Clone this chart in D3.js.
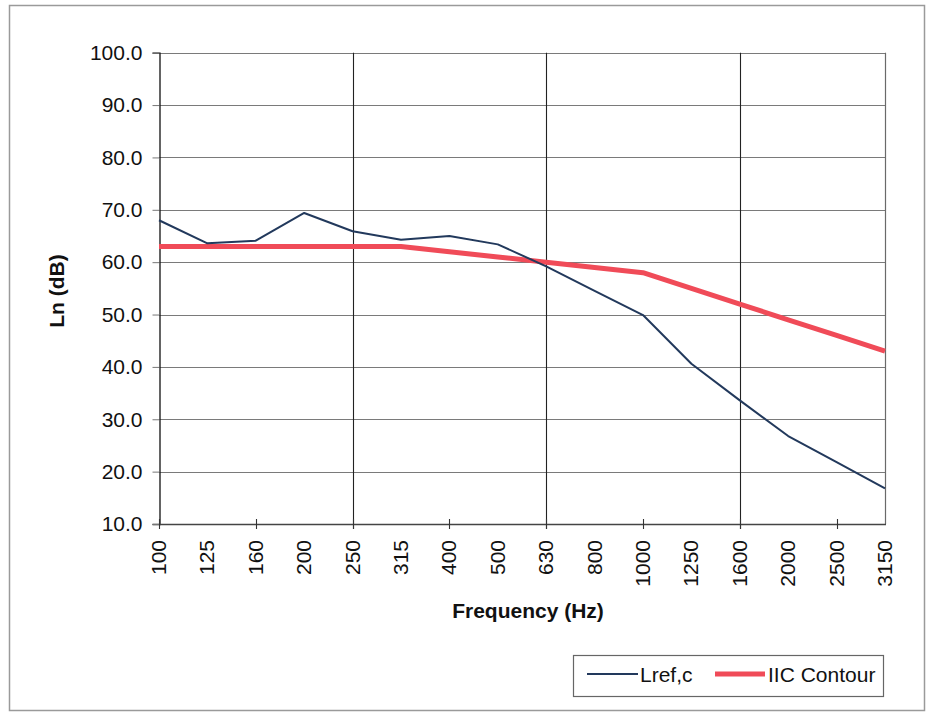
<!DOCTYPE html>
<html>
<head>
<meta charset="utf-8">
<script src="https://cdn.jsdelivr.net/npm/d3@7"></script>
<style>
  html, body { margin: 0; padding: 0; background: #fff; }
  svg { display: block; }
  text { font-family: Arial, "Liberation Sans", sans-serif; fill: #111; }
</style>
</head>
<body>
<svg id="chart" width="927" height="713"></svg>
<script>
// ---- data ----
const categories = ["100","125","160","200","250","315","400","500","630","800","1000","1250","1600","2000","2500","3150"];
const lrefValues = [68.0, 63.6, 64.1, 69.4, 65.9, 64.3, 65.0, 63.4, 59.2, 54.5, 49.9, 40.6, 33.6, 26.8, 21.8, 16.8];
const iicValues  = [63, 63, 63, 63, 63, 63, 62, 61, 60, 59, 58, 55, 52, 49, 46, 43];
const yTicks = [10, 20, 30, 40, 50, 60, 70, 80, 90, 100];
const seriesNames = ["Lref,c", "IIC Contour"];
const majorGridCats = ["250", "630", "1600"];

// ---- layout ----
const svg = d3.select("#chart");
const L = 159, R = 885, T = 52.7, B = 524;
const x = d3.scalePoint().domain(categories).range([L, R]);
const y = d3.scaleLinear().domain([10, 100]).range([B, T]);

// outer border
svg.append("rect").attr("x", 9.5).attr("y", 5.5).attr("width", 915).attr("height", 705)
  .attr("fill", "none").attr("stroke", "#9a9a9a").attr("stroke-width", 1.5);

// horizontal gridlines
svg.append("g").selectAll("line").data(yTicks).join("line")
  .attr("x1", L).attr("x2", R)
  .attr("y1", d => Math.round(y(d)) + 0.5).attr("y2", d => Math.round(y(d)) + 0.5)
  .attr("stroke", "#7a7a7a").attr("stroke-width", 1);

// right plot border
svg.append("line").attr("x1", R + 0.5).attr("x2", R + 0.5).attr("y1", T).attr("y2", B)
  .attr("stroke", "#6a6a6a").attr("stroke-width", 1.2);

// vertical major gridlines
svg.append("g").selectAll("line").data(majorGridCats).join("line")
  .attr("x1", d => Math.round(x(d)) + 0.5).attr("x2", d => Math.round(x(d)) + 0.5)
  .attr("y1", T).attr("y2", B + 5)
  .attr("stroke", "#222").attr("stroke-width", 1.1);

// y axis
const yAxis = d3.axisLeft(y).tickValues(yTicks).tickFormat(d3.format(".1f")).tickSize(7).tickPadding(10);
const gy = svg.append("g").attr("transform", `translate(${L + 0.5},0)`).call(yAxis);
gy.select(".domain").attr("stroke", "#111").attr("stroke-width", 1.3);
gy.selectAll(".tick line").attr("stroke", "#777");
gy.selectAll(".tick text").attr("font-size", 21).attr("font-family", "Arial, 'Liberation Sans', sans-serif").attr("fill", "#111");

// x axis line
svg.append("line").attr("x1", L).attr("x2", R + 1).attr("y1", B + 0.5).attr("y2", B + 0.5)
  .attr("stroke", "#444").attr("stroke-width", 1.3);
// x ticks every 2 categories
svg.append("g").selectAll("line").data(categories.filter((d, i) => i % 2 === 0)).join("line")
  .attr("x1", d => Math.round(x(d)) + 0.5).attr("x2", d => Math.round(x(d)) + 0.5)
  .attr("y1", B - 5).attr("y2", B + 5)
  .attr("stroke", "#333").attr("stroke-width", 1.1);

// x tick labels (rotated)
svg.append("g").selectAll("text").data(categories).join("text")
  .attr("transform", d => `translate(${x(d) + 7},540) rotate(-90)`)
  .attr("text-anchor", "end")
  .attr("font-size", 21)
  .text(d => d);

// axis titles
svg.append("text").attr("x", 528).attr("y", 618).attr("text-anchor", "middle")
  .attr("font-size", 21).attr("font-weight", "bold").text("Frequency (Hz)");
svg.append("text").attr("transform", "translate(64,291) rotate(-90)").attr("text-anchor", "middle")
  .attr("font-size", 21).attr("font-weight", "bold").text("Ln (dB)");

// lines
const lineGen = d3.line().x((d, i) => x(categories[i])).y(d => y(d));
svg.append("path").datum(iicValues).attr("d", lineGen)
  .attr("fill", "none").attr("stroke", "#f04b58").attr("stroke-width", 5).attr("stroke-linejoin", "round");
svg.append("path").datum(lrefValues).attr("d", lineGen)
  .attr("fill", "none").attr("stroke", "#22395c").attr("stroke-width", 2).attr("stroke-linejoin", "round");

// legend
const lg = svg.append("g");
lg.append("rect").attr("x", 573.5).attr("y", 655.5).attr("width", 310).attr("height", 41)
  .attr("fill", "#fff").attr("stroke", "#666").attr("stroke-width", 1.2);
lg.append("line").attr("x1", 587).attr("x2", 638).attr("y1", 674).attr("y2", 674)
  .attr("stroke", "#22395c").attr("stroke-width", 2);
lg.append("text").attr("x", 640).attr("y", 682).attr("font-size", 21).text(seriesNames[0]);
lg.append("line").attr("x1", 715).attr("x2", 765).attr("y1", 674).attr("y2", 674)
  .attr("stroke", "#f04b58").attr("stroke-width", 5);
lg.append("text").attr("x", 768).attr("y", 682).attr("font-size", 21).text(seriesNames[1]);
</script>
</body>
</html>
